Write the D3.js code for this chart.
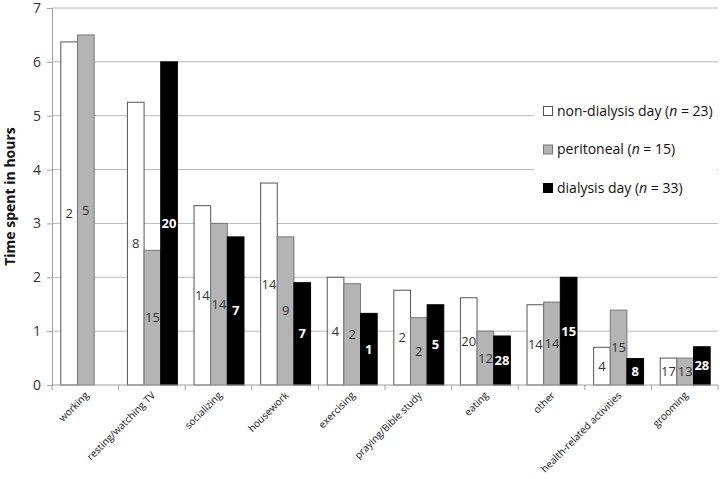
<!DOCTYPE html>
<html>
<head>
<meta charset="utf-8">
<script src="https://cdn.jsdelivr.net/npm/d3@7"></script>
<style>
  body { margin: 0; background: #fff; }
  text { font-family: "Open Sans", "Noto Sans", sans-serif; }
</style>
</head>
<body>
<div id="chart"></div>
<script>
var width = 720,
    height = 479,
    margin = {top: 8, right: 2, bottom: 94, left: 52};

// activities on the x axis
var categories = ["working", "resting/watching TV", "socializing", "housework", "exercising",
  "praying/Bible study", "eating", "other", "health-related activities", "grooming"];

// mean hours per group
var nonDialysis = [6.37, 5.25, 3.33, 3.75, 2.0, 1.76, 1.62, 1.49, 0.7, 0.5];
var peritoneal  = [6.5, 2.5, 3.0, 2.75, 1.88, 1.25, 1.0, 1.54, 1.39, 0.5];
var dialysisDay = [null, 6.0, 2.75, 1.9, 1.33, 1.49, 0.91, 2.0, 0.49, 0.71];

// n inside each bar
var nonDialysisN = [2, 8, 14, 14, 4, 2, 20, 14, 4, 17];
var peritonealN  = [5, 15, 14, 9, 2, 2, 12, 14, 15, 13];
var dialysisDayN = [null, 20, 7, 7, 1, 5, 28, 15, 8, 28];

var yTicks = [0, 1, 2, 3, 4, 5, 6, 7];

var series = [
  {key: "nd", name: "non-dialysis day", n: 23, values: nonDialysis, counts: nonDialysisN, fill: "#ffffff", stroke: "#555", text: "#333", bold: false},
  {key: "pe", name: "peritoneal", n: 15, values: peritoneal, counts: peritonealN, fill: "#b4b4b4", stroke: "#777", text: "#333", bold: false},
  {key: "dd", name: "dialysis day", n: 33, values: dialysisDay, counts: dialysisDayN, fill: "#000000", stroke: "#000", text: "#fff", bold: true}
];

var svg = d3.select("#chart").append("svg")
    .attr("width", width)
    .attr("height", height);

var x = d3.scaleBand()
    .domain(categories)
    .range([margin.left, width - margin.right])
    .paddingInner(0)
    .paddingOuter(0);

var x1 = d3.scaleBand()
    .domain(series.map(function (s) { return s.key; }))
    .range([0, x.bandwidth()])
    .paddingOuter(0.5)
    .paddingInner(0);

var y = d3.scaleLinear()
    .domain([0, 7])
    .range([height - margin.bottom, margin.top]);

// gridlines
svg.append("g")
  .selectAll("line")
  .data(yTicks.slice(1))
  .enter().append("line")
  .attr("x1", margin.left)
  .attr("x2", width - margin.right)
  .attr("y1", function (d) { return y(d); })
  .attr("y2", function (d) { return y(d); })
  .attr("stroke", "#b8b8b8")
  .attr("stroke-width", 1);

// y axis
var yAxis = svg.append("g")
  .attr("transform", "translate(" + margin.left + ",0)")
  .call(d3.axisLeft(y).tickValues(yTicks).tickSize(5).tickPadding(6).tickFormat(d3.format("d")));
yAxis.select(".domain").attr("stroke", "#a0a0a0");
yAxis.selectAll(".tick line").attr("stroke", "#a0a0a0");
yAxis.selectAll(".tick text").attr("font-size", 14).attr("fill", "#333");

svg.append("text")
  .attr("transform", "translate(15," + y(3.5) + ") rotate(-90)")
  .attr("text-anchor", "middle")
  .attr("font-size", 14)
  .attr("font-weight", "bold")
  .attr("fill", "#111")
  .text("Time spent in hours");

// bars
var groups = svg.append("g")
  .selectAll("g")
  .data(categories)
  .enter().append("g")
  .attr("transform", function (d) { return "translate(" + x(d) + ",0)"; });

series.forEach(function (s) {
  var g = groups.filter(function (d, i) { return s.values[i] != null; });
  g.append("rect")
    .attr("x", function (d) { return x1(s.key) + 0.5; })
    .attr("width", x1.bandwidth())
    .attr("y", function (d) { return y(s.values[categories.indexOf(d)]); })
    .attr("height", function (d) { return y(0) - y(s.values[categories.indexOf(d)]); })
    .attr("fill", s.fill)
    .attr("stroke", s.stroke)
    .attr("stroke-width", 1);
  g.append("text")
    .attr("x", function (d) { return x1(s.key) + x1.bandwidth() / 2 + 0.5; })
    .attr("y", function (d) { return y(s.values[categories.indexOf(d)] / 2); })
    .attr("dy", "0.35em")
    .attr("text-anchor", "middle")
    .attr("font-size", 13)
    .attr("font-weight", s.bold ? "bold" : "normal")
    .attr("fill", s.text)
    .text(function (d) { return s.counts[categories.indexOf(d)]; });
});

// x axis
var xAxis = svg.append("g")
  .attr("transform", "translate(0," + y(0) + ")");
xAxis.append("line")
  .attr("x1", margin.left)
  .attr("x2", width - margin.right)
  .attr("stroke", "#a0a0a0");
xAxis.selectAll(".tk")
  .data(categories.map(function (d) { return x(d); }).concat([width - margin.right]))
  .enter().append("line")
  .attr("x1", function (d) { return d; })
  .attr("x2", function (d) { return d; })
  .attr("y2", 5)
  .attr("stroke", "#a0a0a0");
xAxis.selectAll(".lbl")
  .data(categories)
  .enter().append("text")
  .attr("transform", function (d) {
    return "translate(" + (x(d) + x.bandwidth() / 2 + 4) + ",11) rotate(-45)";
  })
  .attr("text-anchor", "end")
  .attr("font-size", 10)
  .attr("fill", "#111")
  .text(function (d) { return d; });

// legend
var legend = svg.append("g");
legend.append("rect")
  .attr("x", 534)
  .attr("y", 95)
  .attr("width", width - 534 - 3)
  .attr("height", 110)
  .attr("fill", "#fff");

var li = legend.selectAll(".li")
  .data(series)
  .enter().append("g")
  .attr("transform", function (d, i) { return "translate(543," + (111 + i * 38.5) + ")"; });
li.append("rect")
  .attr("x", 0.5)
  .attr("y", -4.5)
  .attr("width", 9)
  .attr("height", 9)
  .attr("fill", function (d) { return d.fill; })
  .attr("stroke", function (d) { return d.stroke; });
var lt = li.append("text")
  .attr("x", 14)
  .attr("dy", "0.35em")
  .attr("font-size", 14)
  .attr("fill", "#111");
lt.append("tspan").text(function (d) { return d.name + " ("; });
lt.append("tspan").attr("font-style", "italic").text("n");
lt.append("tspan").text(function (d) { return " = " + d.n + ")"; });
</script>
</body>
</html>
